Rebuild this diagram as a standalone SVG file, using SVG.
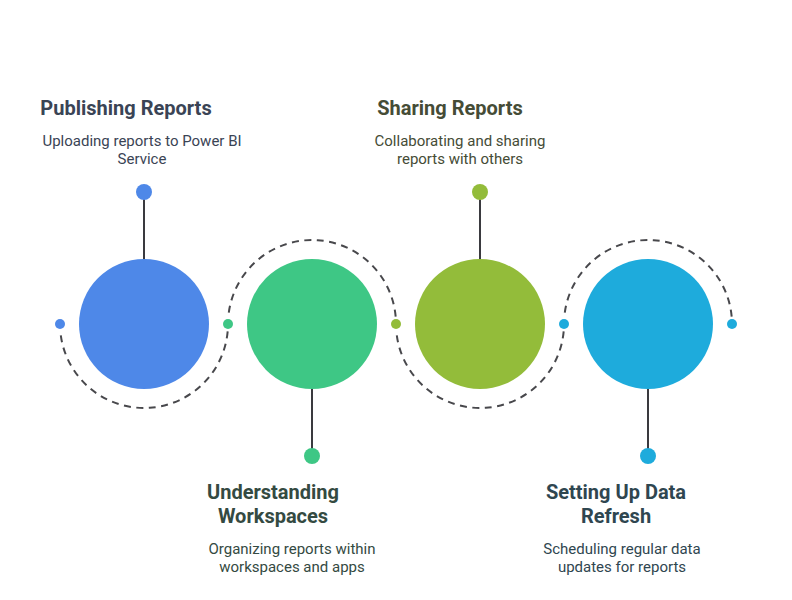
<svg xmlns="http://www.w3.org/2000/svg" width="792" height="600" viewBox="0 0 792 600">
<style>
.t{font-family:Roboto,"Liberation Sans",sans-serif;font-size:20px;font-weight:700;text-anchor:middle}
.d{font-family:Roboto,"Liberation Sans",sans-serif;font-size:15px;text-anchor:middle}
.l{stroke:#3a3a3f;stroke-width:2;fill:none}
.a{stroke:#48484c;stroke-width:2;fill:none;stroke-dasharray:7 5.5}
</style>
<rect width="792" height="600" fill="#fff"/>
<g id="connectors">
<path class="a" d="M60.79 335.47A84 84 0 0 0 228 324"/>
<path class="a" d="M228.79 312.53A84 84 0 0 1 396 324"/>
<path class="a" d="M396.79 335.47A84 84 0 0 0 564 324"/>
<path class="a" d="M564.79 312.53A84 84 0 0 1 732 324"/>
<path class="l" d="M144 192V259"/>
<path class="l" d="M312 389V456"/>
<path class="l" d="M480 192V259"/>
<path class="l" d="M648 389V456"/>
</g>
<g id="n1"><circle cx="144" cy="324" r="65" fill="#4e88e8"/><circle cx="144" cy="192" r="8" fill="#4e88e8"/><circle cx="60" cy="324" r="5" fill="#4e88e8"/>
<text class="t" x="126" y="115" fill="#3a4455">Publishing Reports</text>
<text class="d" x="142" y="146" fill="#3a4455">Uploading reports to Power BI</text><text class="d" x="142" y="164" fill="#3a4455">Service</text></g>
<g id="n2"><circle cx="312" cy="324" r="65" fill="#3ec785"/><circle cx="312" cy="456" r="8" fill="#3ec785"/><circle cx="228" cy="324" r="5" fill="#3ec785"/>
<text class="t" x="273" y="499" fill="#344a42">Understanding</text><text class="t" x="273" y="523" fill="#344a42">Workspaces</text>
<text class="d" x="292" y="554" fill="#344a42">Organizing reports within</text><text class="d" x="292" y="572" fill="#344a42">workspaces and apps</text></g>
<g id="n3"><circle cx="480" cy="324" r="65" fill="#93bc3a"/><circle cx="480" cy="192" r="8" fill="#93bc3a"/><circle cx="396" cy="324" r="5" fill="#93bc3a"/>
<text class="t" x="450" y="115" fill="#454c36">Sharing Reports</text>
<text class="d" x="460" y="146" fill="#454c36">Collaborating and sharing</text><text class="d" x="460" y="164" fill="#454c36">reports with others</text></g>
<g id="n4"><circle cx="648" cy="324" r="65" fill="#1eabdc"/><circle cx="648" cy="456" r="8" fill="#1eabdc"/><circle cx="564" cy="324" r="5" fill="#1eabdc"/><circle cx="732" cy="324" r="5" fill="#1eabdc"/>
<text class="t" x="616" y="499" fill="#2f4650">Setting Up Data</text><text class="t" x="616" y="523" fill="#2f4650">Refresh</text>
<text class="d" x="622" y="554" fill="#2f4650">Scheduling regular data</text><text class="d" x="622" y="572" fill="#2f4650">updates for reports</text></g>
</svg>
